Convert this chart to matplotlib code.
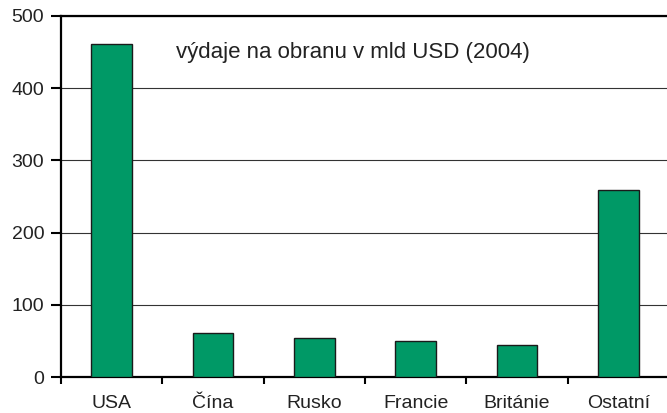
import matplotlib.pyplot as plt
import numpy as np

categories = ["USA", "Čína", "Rusko", "Francie", "Británie", "Ostatní"]
spending = [461, 61, 54, 50, 45, 259]
yticks = [0, 100, 200, 300, 400, 500]

plt.rcParams["font.family"] = ["Liberation Sans", "DejaVu Sans"]

fig = plt.figure(figsize=(6.67, 4.13), dpi=100)
ax = fig.add_axes([61 / 667, 36 / 413, 608 / 667, 361 / 413])

x = np.arange(len(categories))
ax.bar(x, spending, width=0.4, color="#009966", edgecolor="#1a1a1a",
       linewidth=1.0, zorder=3)

ax.set_xlim(-0.5, len(categories) - 0.5)
ax.set_ylim(0, 500)
ax.set_yticks(yticks)
ax.set_yticklabels([str(v) for v in yticks], fontsize=14, color="#222222")
ax.yaxis.grid(True, color="#333333", linewidth=0.8)
ax.set_axisbelow(True)

# category ticks sit between the bars
ax.set_xticks(np.arange(len(categories) + 1) - 0.5)
ax.set_xticklabels([])
ax.tick_params(axis="x", direction="out", length=5, width=1.5, color="black")
ax.tick_params(axis="y", direction="out", length=7, width=1.5, color="black", pad=5)
for i, name in enumerate(categories):
    ax.text(i, -37, name, ha="center", va="center", fontsize=14, color="#222222",
            family=["Liberation Sans Narrow", "Liberation Sans", "DejaVu Sans"])

ax.spines["right"].set_visible(False)
for side in ["left", "bottom", "top"]:
    ax.spines[side].set_linewidth(1.6)

ax.text(0.63, 442, "výdaje na obranu v mld USD (2004)", fontsize=16,
        color="#222222", va="baseline", ha="left")

fig.savefig("out.png", dpi=100)
